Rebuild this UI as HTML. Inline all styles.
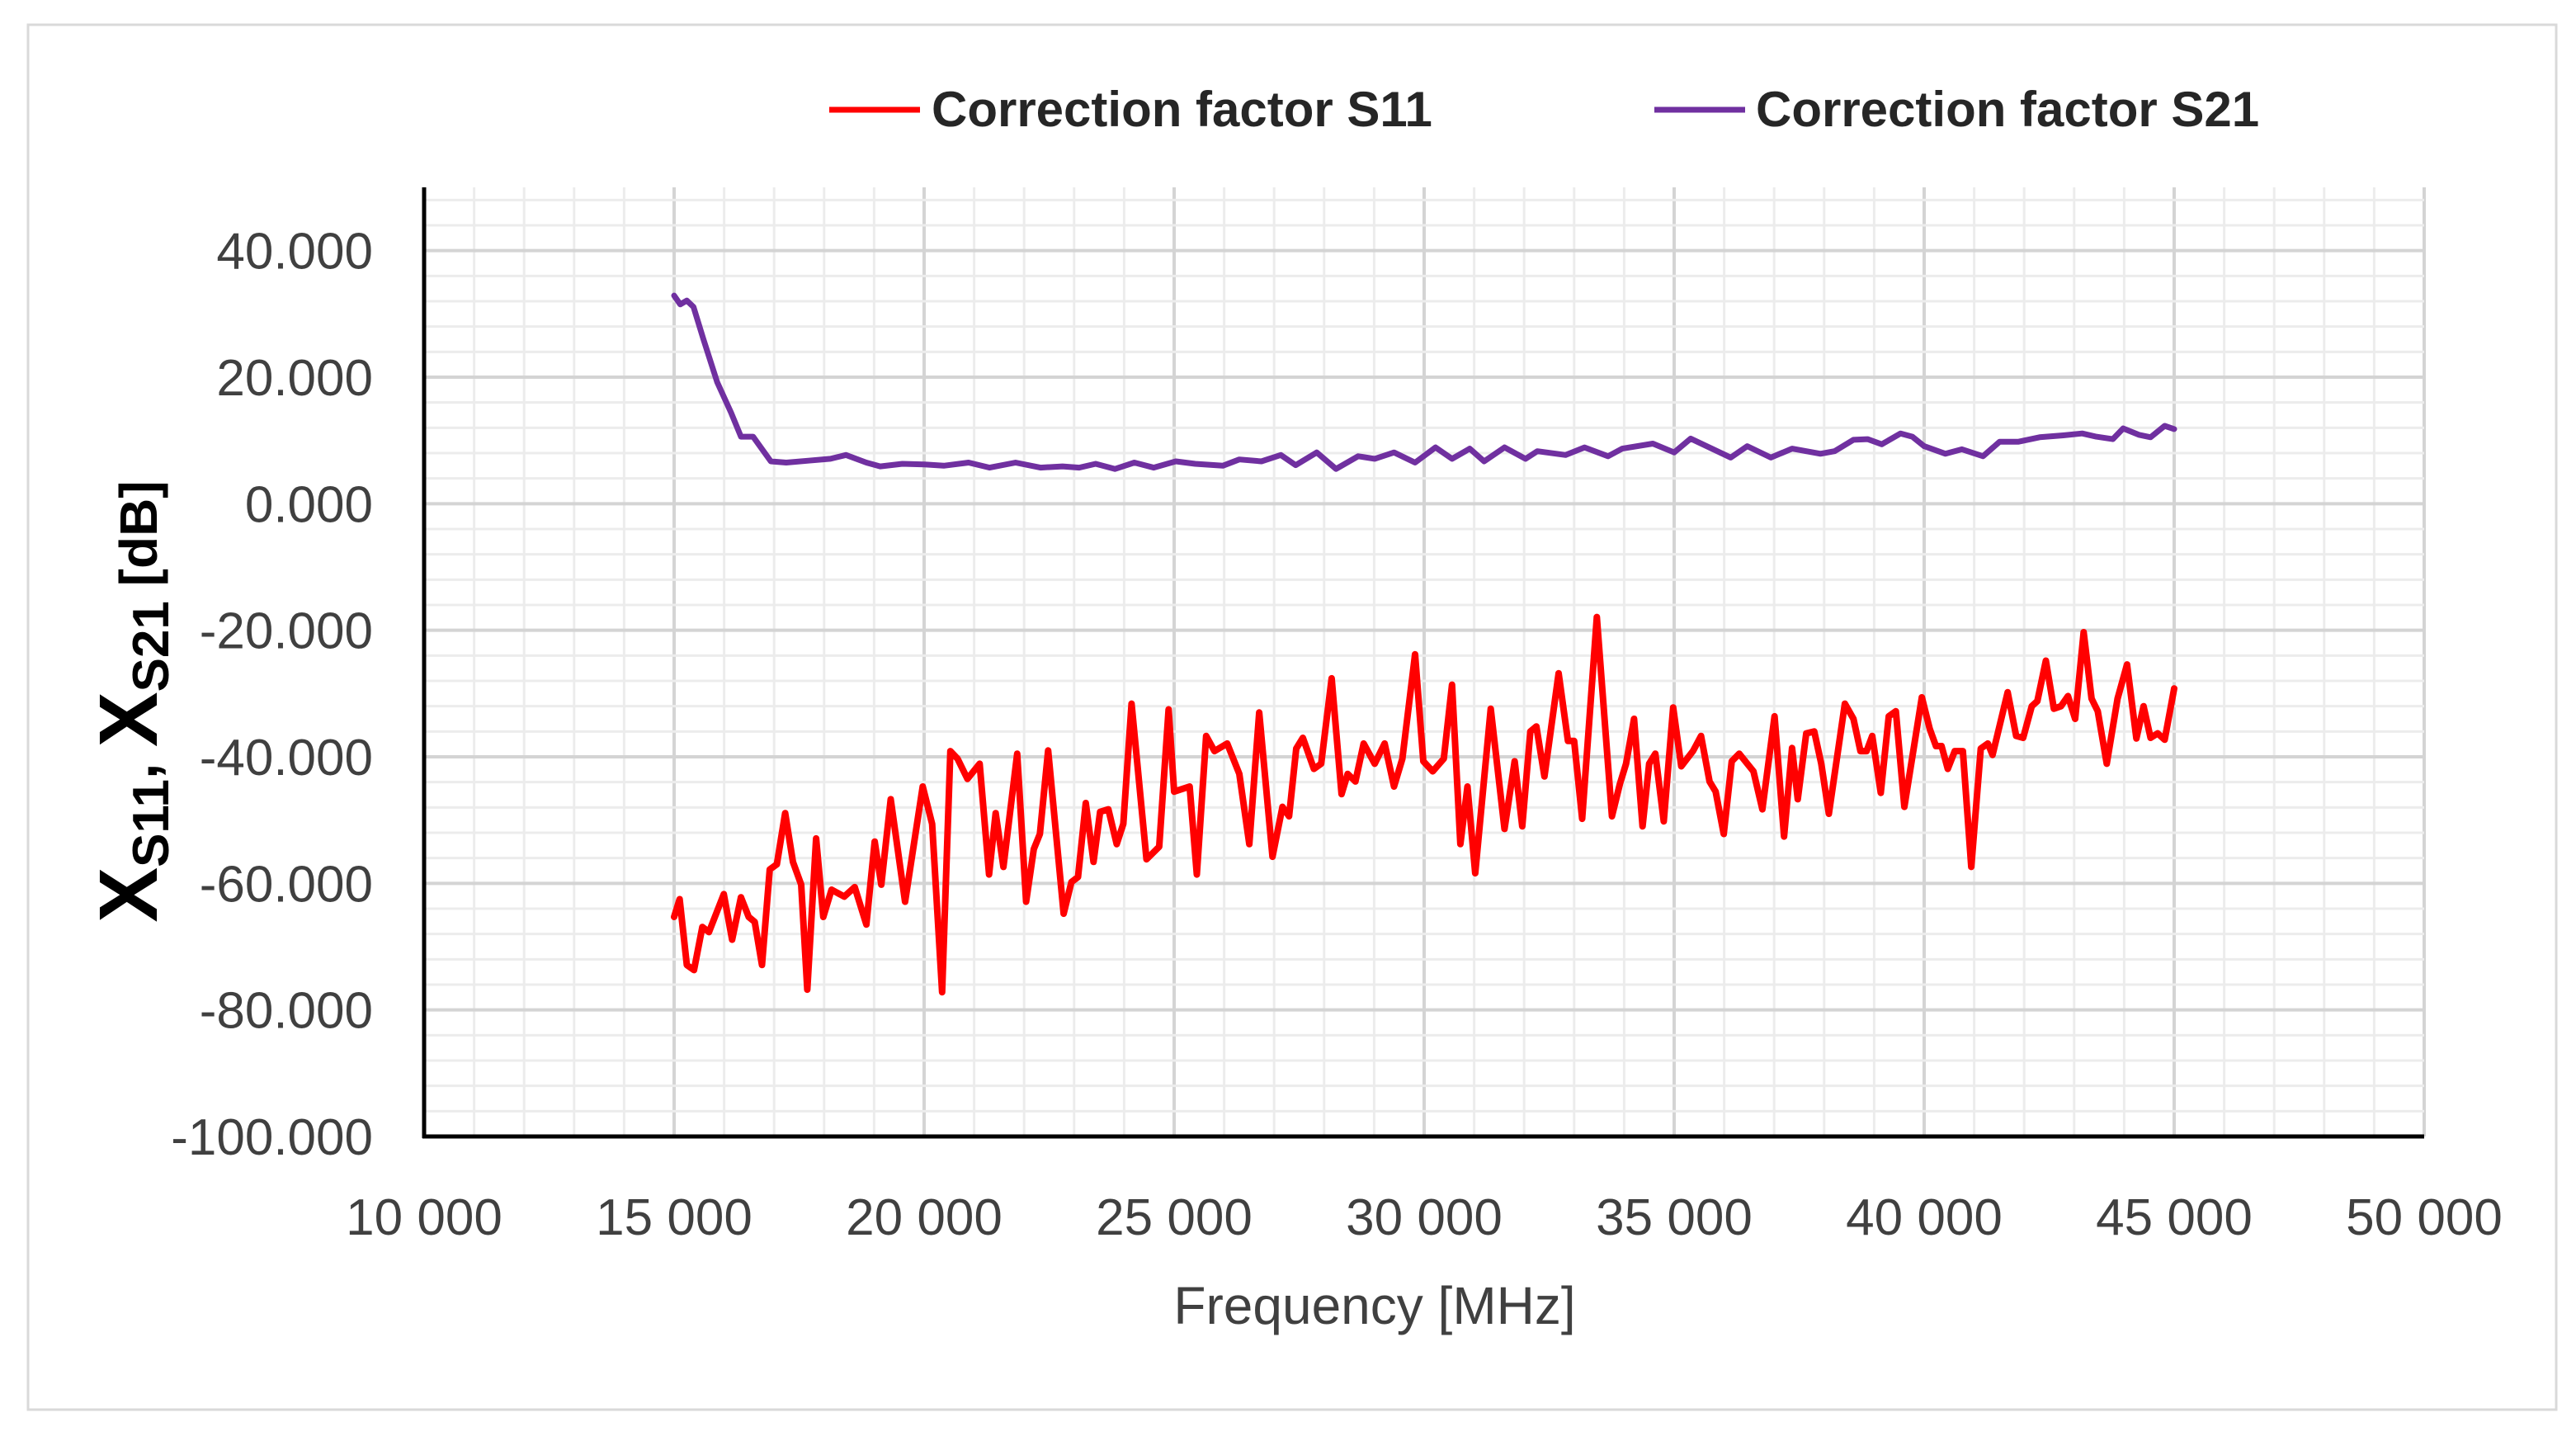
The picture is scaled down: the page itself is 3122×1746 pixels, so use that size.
<!DOCTYPE html>
<html><head><meta charset="utf-8">
<style>
html,body{margin:0;padding:0;background:#fff;}
svg{display:block;}
text{font-family:"Liberation Sans",sans-serif;}
</style></head>
<body>
<svg id="chart" width="3122" height="1746" viewBox="0 0 3122 1746" xmlns="http://www.w3.org/2000/svg">
<rect x="0" y="0" width="3122" height="1746" fill="#fff"/>
<rect x="34" y="30" width="3064" height="1678" fill="none" stroke="#d9d9d9" stroke-width="3"/>
<g id="grid"></g>
<g id="series"></g>
<g id="axes"></g>
<g>
  <line x1="1005" y1="133" x2="1115" y2="133" stroke="#ff0000" stroke-width="7"/>
  <text x="1129" y="153" font-size="60" font-weight="bold" fill="#262626">Correction factor S11</text>
  <line x1="2005" y1="133" x2="2115" y2="133" stroke="#7030a0" stroke-width="7"/>
  <text x="2128" y="153" font-size="60" font-weight="bold" fill="#262626">Correction factor S21</text>
</g>
<text x="1666" y="1604" font-size="64" text-anchor="middle" fill="#404040">Frequency [MHz]</text>
<text transform="translate(190,850) rotate(-90)" text-anchor="middle" font-weight="bold" fill="#000"><tspan font-size="100">X</tspan><tspan font-size="62" dy="14">S11</tspan><tspan font-size="70" dy="-14">, </tspan><tspan font-size="100">X</tspan><tspan font-size="62" dy="14">S21</tspan><tspan font-size="64" dy="-14"> [dB]</tspan></text>
</svg>
<script>
const xTicks = [10000,15000,20000,25000,30000,35000,40000,45000,50000];
const xTickLabels = ["10 000","15 000","20 000","25 000","30 000","35 000","40 000","45 000","50 000"];
const yTicks = [40,20,0,-20,-40,-60,-80,-100];
const yTickLabels = ["40.000","20.000","0.000","-20.000","-40.000","-60.000","-80.000","-100.000"];
const s11Freq = [15000,15110,15254,15398,15564,15696,15994,16160,16337,16492,16613,16757,16912,17055,17221,17376,17541,17663,17840,17983,18149,18403,18613,18845,19011,19144,19332,19619,19972,20160,20359,20525,20669,20867,21111,21299,21431,21586,21862,22039,22193,22315,22481,22790,22945,23078,23232,23387,23520,23685,23851,23984,24149,24448,24702,24890,25000,25310,25453,25641,25807,26061,26304,26503,26702,26967,27166,27299,27442,27575,27796,27940,28150,28348,28470,28625,28790,29011,29210,29398,29564,29818,29983,30171,30392,30558,30724,30867,31022,31331,31608,31811,31962,32123,32245,32406,32689,32877,33000,33160,33453,33755,33915,34038,34198,34368,34500,34623,34792,34981,35142,35377,35538,35708,35830,35991,36151,36302,36585,36764,37009,37198,37358,37472,37642,37802,37943,38094,38415,38585,38726,38849,38962,39132,39292,39434,39604,39953,40113,40236,40349,40472,40613,40774,40943,41132,41274,41368,41670,41840,41981,42151,42264,42434,42594,42736,42877,43019,43189,43349,43472,43651,43868,44057,44245,44387,44528,44670,44811,45000];
const s11Values = [-65.3,-62.5,-72.9,-73.7,-66.9,-67.7,-61.7,-68.9,-62.2,-65.3,-66.1,-72.9,-57.8,-57.0,-48.9,-56.6,-60.2,-76.8,-52.9,-65.3,-61.0,-62.1,-60.6,-66.5,-53.4,-60.2,-46.7,-62.9,-44.7,-50.6,-77.2,-39.1,-40.3,-43.5,-41.1,-58.6,-48.9,-57.4,-39.5,-62.9,-54.6,-52.2,-39.0,-64.8,-59.8,-59.0,-47.3,-56.6,-48.7,-48.3,-53.8,-50.6,-31.6,-56.2,-54.2,-32.5,-45.5,-44.7,-58.6,-36.7,-39.1,-37.9,-42.7,-53.8,-33.0,-55.8,-47.9,-49.4,-38.7,-37.0,-41.9,-41.1,-27.6,-45.9,-42.7,-43.9,-37.9,-41.1,-37.9,-44.7,-40.3,-23.8,-40.7,-42.3,-40.3,-28.6,-53.8,-44.7,-58.4,-32.4,-51.4,-40.7,-51.0,-36.0,-35.2,-43.1,-26.8,-37.5,-37.5,-49.8,-17.9,-49.4,-44.3,-41.1,-34.0,-51.0,-41.1,-39.5,-50.2,-32.2,-41.5,-39.1,-36.7,-43.9,-45.5,-52.2,-40.7,-39.5,-42.3,-48.3,-33.6,-52.6,-38.6,-46.7,-36.3,-36.0,-41.1,-49.0,-31.6,-34.0,-39.1,-39.1,-36.7,-45.7,-33.6,-32.8,-47.9,-30.6,-35.6,-38.3,-38.3,-41.9,-39.1,-39.1,-57.4,-38.7,-37.9,-39.7,-29.8,-36.7,-37.0,-32.0,-31.2,-24.8,-32.4,-32.0,-30.4,-34.0,-20.3,-30.8,-32.8,-41.1,-30.8,-25.4,-37.1,-32.0,-37.0,-36.3,-37.3,-29.2];
const s21Freq = [15000,15122,15254,15387,15586,15862,16138,16337,16580,16934,17243,17685,18127,18437,18845,19122,19564,20006,20392,20890,21310,21829,22326,22768,23100,23431,23818,24205,24591,25033,25420,25973,26304,26746,27133,27431,27851,28238,28680,29011,29398,29818,30227,30558,30912,31199,31608,32028,32264,32830,33208,33679,33962,34575,35000,35330,36132,36462,36934,37358,37925,38208,38585,38868,39151,39528,39764,40000,40425,40755,41179,41509,41887,42311,42783,43160,43443,43774,43981,44292,44528,44811,45000];
const s21Values = [32.9,31.5,32.1,31.1,26.0,19.2,14.4,10.6,10.6,6.7,6.5,6.8,7.1,7.7,6.5,5.9,6.3,6.2,6.0,6.5,5.7,6.5,5.7,5.9,5.7,6.3,5.5,6.5,5.7,6.7,6.3,6.0,7.0,6.7,7.7,6.1,8.1,5.5,7.5,7.1,8.1,6.5,8.9,7.1,8.7,6.7,8.9,7.1,8.3,7.7,8.9,7.5,8.7,9.5,8.1,10.3,7.3,9.1,7.3,8.7,7.9,8.3,10.1,10.2,9.4,11.1,10.6,9.1,7.9,8.6,7.5,9.8,9.8,10.5,10.8,11.1,10.6,10.2,11.9,10.9,10.5,12.3,11.8];

const X0=514, X1=2938, XMIN=10000, XMAX=50000;
const YMAX=50, YMIN=-100, Y0=227, Y1=1377;
function xs(f){return X0+(f-XMIN)/(XMAX-XMIN)*(X1-X0);}
function ys(v){return Y0+(YMAX-v)/(YMAX-YMIN)*(Y1-Y0);}
const NS="http://www.w3.org/2000/svg";
function mk(tag,attrs,parent){const e=document.createElementNS(NS,tag);for(const k in attrs)e.setAttribute(k,attrs[k]);parent.appendChild(e);return e;}
const grid=document.getElementById('grid'), axes=document.getElementById('axes'), series=document.getElementById('series');
for(let f=XMIN; f<=XMAX; f+=1000){
  const major=(f%5000===0);
  const l=mk('line',{x1:xs(f),x2:xs(f),y1:Y0,y2:Y1,stroke:major?'#d4d4d4':'#ececec','stroke-width':major?4:3},grid);
  
  
}
for(let v=YMIN; v<=YMAX; v+=4){
  const major=(v%20===0);
  const l=mk('line',{x1:X0,x2:X1,y1:ys(v),y2:ys(v),stroke:major?'#d4d4d4':'#ececec','stroke-width':major?4:3},grid);
  
  
}
function drawSeries(fr,vals,color,w,name){
  let d='';
  for(let i=0;i<fr.length;i++){d+=(i?'L':'M')+xs(fr[i]).toFixed(1)+','+ys(vals[i]).toFixed(1);}
  const p=mk('path',{d:d,fill:'none',stroke:color,'stroke-width':w,'stroke-linejoin':'round','stroke-linecap':'round'},series);
  
  
}
drawSeries(s21Freq,s21Values,'#7030a0',7,'s21-line');
drawSeries(s11Freq,s11Values,'#ff0000',8,'s11-line');
const ya=mk('line',{x1:X0,x2:X0,y1:Y0,y2:Y1+2,stroke:'#000','stroke-width':5},axes);


const xa=mk('line',{x1:X0-2,x2:X1,y1:Y1,y2:Y1,stroke:'#000','stroke-width':5},axes);


for(let i=0;i<xTicks.length;i++){
  const t=mk('text',{x:xs(xTicks[i]),y:1496,'font-size':62,'text-anchor':'middle',fill:'#404040'},axes);
  t.textContent=xTickLabels[i];
  
  
}
for(let i=0;i<yTicks.length;i++){
  const t=mk('text',{x:452,y:ys(yTicks[i])+22,'font-size':62,'text-anchor':'end',fill:'#404040'},axes);
  t.textContent=yTickLabels[i];
  
  
}
</script>
</body></html>
